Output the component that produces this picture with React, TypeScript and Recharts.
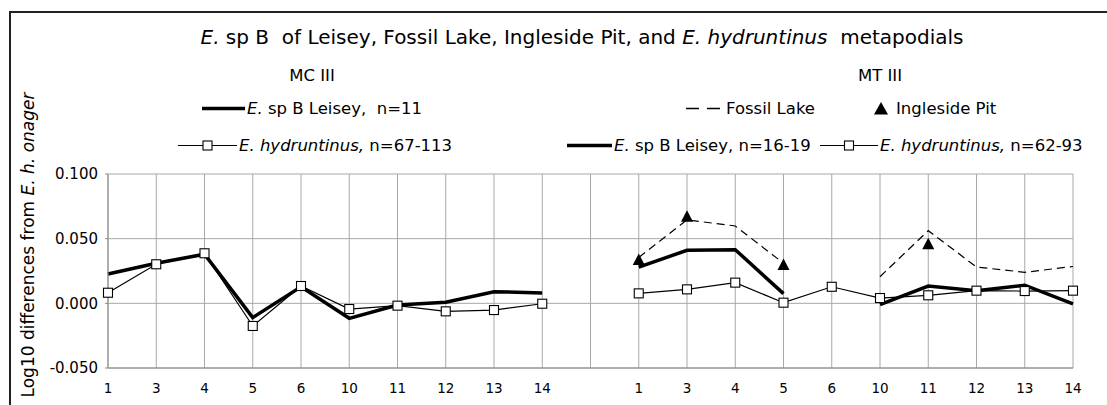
import React from 'react';
import { LineChart, Line, XAxis, YAxis, CartesianGrid } from 'recharts';

// x categories (same bone measurements for MC III and MT III)
const measureLabels = ['1', '3', '4', '5', '6', '10', '11', '12', '13', '14'];

// MC III series
const mcLeisey = [0.0227, 0.031, 0.038, -0.011, 0.0128, -0.0116, -0.0013, 0.0008, 0.009, 0.008];
const mcHydruntinus = [0.0082, 0.0302, 0.0387, -0.0175, 0.0134, -0.0044, -0.0018, -0.0062, -0.0052, -0.0003];

// MT III series
const mtLeisey = [0.028, 0.041, 0.0415, 0.0075, null, -0.001, 0.0134, 0.0098, 0.014, -0.0005];
const mtHydruntinus = [0.0077, 0.0108, 0.016, 0.0005, 0.0128, 0.0041, 0.0062, 0.0098, 0.0095, 0.0098];
const mtFossilLake = [0.0355, 0.0645, 0.0598, 0.031, null, 0.0206, 0.0562, 0.0281, 0.024, 0.0285];
const mtIngleside = [0.0335, 0.067, null, 0.0296, null, null, 0.0457, null, null, null];

const yTicks = [-0.05, 0, 0.05, 0.1];

const FONT = '"DejaVu Sans", Verdana, sans-serif';
const GRID = '#a8a8a8';

// one row per category, MC III first, an empty slot, then MT III
const data = [
  ...measureLabels.map((label, i) => ({
    id: `mc-${label}`,
    label,
    mcLeisey: mcLeisey[i],
    mcHydruntinus: mcHydruntinus[i],
  })),
  { id: 'gap', label: '' },
  ...measureLabels.map((label, i) => ({
    id: `mt-${label}`,
    label,
    mtLeisey: mtLeisey[i],
    mtHydruntinus: mtHydruntinus[i],
    mtFossilLake: mtFossilLake[i],
    mtIngleside: mtIngleside[i],
  })),
];

const labelById: Record<string, string> = {};
data.forEach(d => { labelById[d.id] = d.label; });

const SquareDot = (props: any) => {
  const { cx, cy, index } = props;
  if (cx == null || cy == null || props.value == null) return <g key={`sq-${index}`} />;
  return <rect key={`sq-${index}`} x={cx - 4.5} y={cy - 4.5} width={9} height={9} fill="#fff" stroke="#000" strokeWidth={1.1} />;
};

const TriangleDot = (props: any) => {
  const { cx, cy, index } = props;
  if (cx == null || cy == null || props.value == null) return <g key={`tr-${index}`} />;
  return <path key={`tr-${index}`} d={`M${cx},${cy - 6.5} L${cx + 6},${cy + 5} L${cx - 6},${cy + 5} Z`} fill="#000" />;
};

const Swatch = ({ width, kind }: { width: number; kind: 'thick' | 'dash' | 'square' | 'triangle' }) => (
  <svg width={width} height={16} style={{ display: 'block' }}>
    {kind === 'thick' && <line x1={0} y1={8} x2={width} y2={8} stroke="#000" strokeWidth={3.5} />}
    {kind === 'dash' && <line x1={0} y1={8} x2={width} y2={8} stroke="#000" strokeWidth={1.4} strokeDasharray="13 8" />}
    {kind === 'square' && (
      <>
        <line x1={0} y1={8} x2={width} y2={8} stroke="#000" strokeWidth={1.2} />
        <rect x={width / 2 - 4.5} y={3.5} width={9} height={9} fill="#fff" stroke="#000" strokeWidth={1.1} />
      </>
    )}
    {kind === 'triangle' && <path d={`M${width / 2},1.5 L${width / 2 + 7},14 L${width / 2 - 7},14 Z`} fill="#000" />}
  </svg>
);

const LegendItem = ({ x, y, swatch, kind, gap = 2, children }: any) => (
  <div style={{ position: 'absolute', left: x, top: y, transform: 'translateY(-50%)', display: 'flex', alignItems: 'center', whiteSpace: 'nowrap', fontSize: 16.5 }}>
    <Swatch width={swatch} kind={kind} />
    <span style={{ marginLeft: gap }}>{children}</span>
  </div>
);

const Centered = ({ x, y, size, children }: any) => (
  <div style={{ position: 'absolute', left: x, top: y, transform: 'translate(-50%, -50%)', whiteSpace: 'nowrap', fontSize: size }}>
    {children}
  </div>
);

export default function App() {
  return (
    <div style={{ position: 'relative', width: 1107, height: 405, fontFamily: FONT, color: '#000', background: '#fff', overflow: 'hidden' }}>
      <style>{'body{margin:0;overflow:hidden;}'}</style>

      {/* frame */}
      <div style={{ position: 'absolute', left: 9, top: 11, width: 1110, height: 410, borderTop: '2px solid #222', borderLeft: '2px solid #222' }} />

      <LineChart
        width={1107}
        height={405}
        data={data}
        margin={{ top: 174, right: 34, left: 48, bottom: 7 }}
        style={{ position: 'absolute', left: 0, top: 0 }}
      >
        <CartesianGrid stroke={GRID} strokeWidth={1} />
        <XAxis
          dataKey="id"
          interval={0}
          tickFormatter={(v: string) => labelById[v] ?? ''}
          tick={{ fontSize: 13.5, fill: '#000', fontFamily: FONT }}
          tickLine={false}
          tickSize={5}
          tickMargin={10}
          height={30}
          axisLine={{ stroke: '#8a8a8a' }}
        />
        <YAxis
          domain={[-0.05, 0.1]}
          ticks={yTicks}
          tickFormatter={(v: number) => v.toFixed(3)}
          tick={{ fontSize: 15, fill: '#000', fontFamily: FONT }}
          tickLine={{ stroke: '#8a8a8a' }}
          tickSize={3}
          tickMargin={7}
          width={60}
          axisLine={{ stroke: '#8a8a8a' }}
        />
        <Line dataKey="mcHydruntinus" stroke="#000" strokeWidth={1.2} dot={SquareDot} activeDot={false} isAnimationActive={false} />
        <Line dataKey="mcLeisey" stroke="#000" strokeWidth={3.5} dot={false} activeDot={false} isAnimationActive={false} />
        <Line dataKey="mtFossilLake" stroke="#000" strokeWidth={1.2} strokeDasharray="8 5" dot={false} activeDot={false} isAnimationActive={false} />
        <Line dataKey="mtHydruntinus" stroke="#000" strokeWidth={1.2} dot={SquareDot} activeDot={false} isAnimationActive={false} />
        <Line dataKey="mtLeisey" stroke="#000" strokeWidth={3.5} dot={false} activeDot={false} isAnimationActive={false} />
        <Line dataKey="mtIngleside" stroke="none" strokeWidth={0} dot={TriangleDot} activeDot={false} isAnimationActive={false} />
      </LineChart>

      <Centered x={582} y={37} size={20}>
        <i>E.</i> sp B&nbsp; of Leisey, Fossil Lake, Ingleside Pit, and <i>E. hydruntinus</i>&nbsp; metapodials
      </Centered>
      <Centered x={312} y={75} size={16.5}>MC III</Centered>
      <Centered x={880} y={75} size={16.5}>MT III</Centered>

      <LegendItem x={202} y={108} swatch={43} kind="thick"><i>E.</i> sp B Leisey,&nbsp; n=11</LegendItem>
      <LegendItem x={686} y={108} swatch={34} kind="dash" gap={6}>Fossil Lake</LegendItem>
      <LegendItem x={872} y={108} swatch={18} kind="triangle" gap={6}>Ingleside Pit</LegendItem>
      <LegendItem x={178} y={145} swatch={59} kind="square"><i>E. hydruntinus,</i> n=67-113</LegendItem>
      <LegendItem x={567} y={145} swatch={45} kind="thick"><i>E.</i> sp B Leisey, n=16-19</LegendItem>
      <LegendItem x={820} y={145} swatch={58} kind="square"><i>E. hydruntinus,</i> n=62-93</LegendItem>

      <div style={{ position: 'absolute', left: 28, top: 245, transform: 'translate(-50%, -50%) rotate(-90deg)', whiteSpace: 'nowrap', fontSize: 17 }}>
        Log10 differences from <i>E. h. onager</i>
      </div>
    </div>
  );
}
